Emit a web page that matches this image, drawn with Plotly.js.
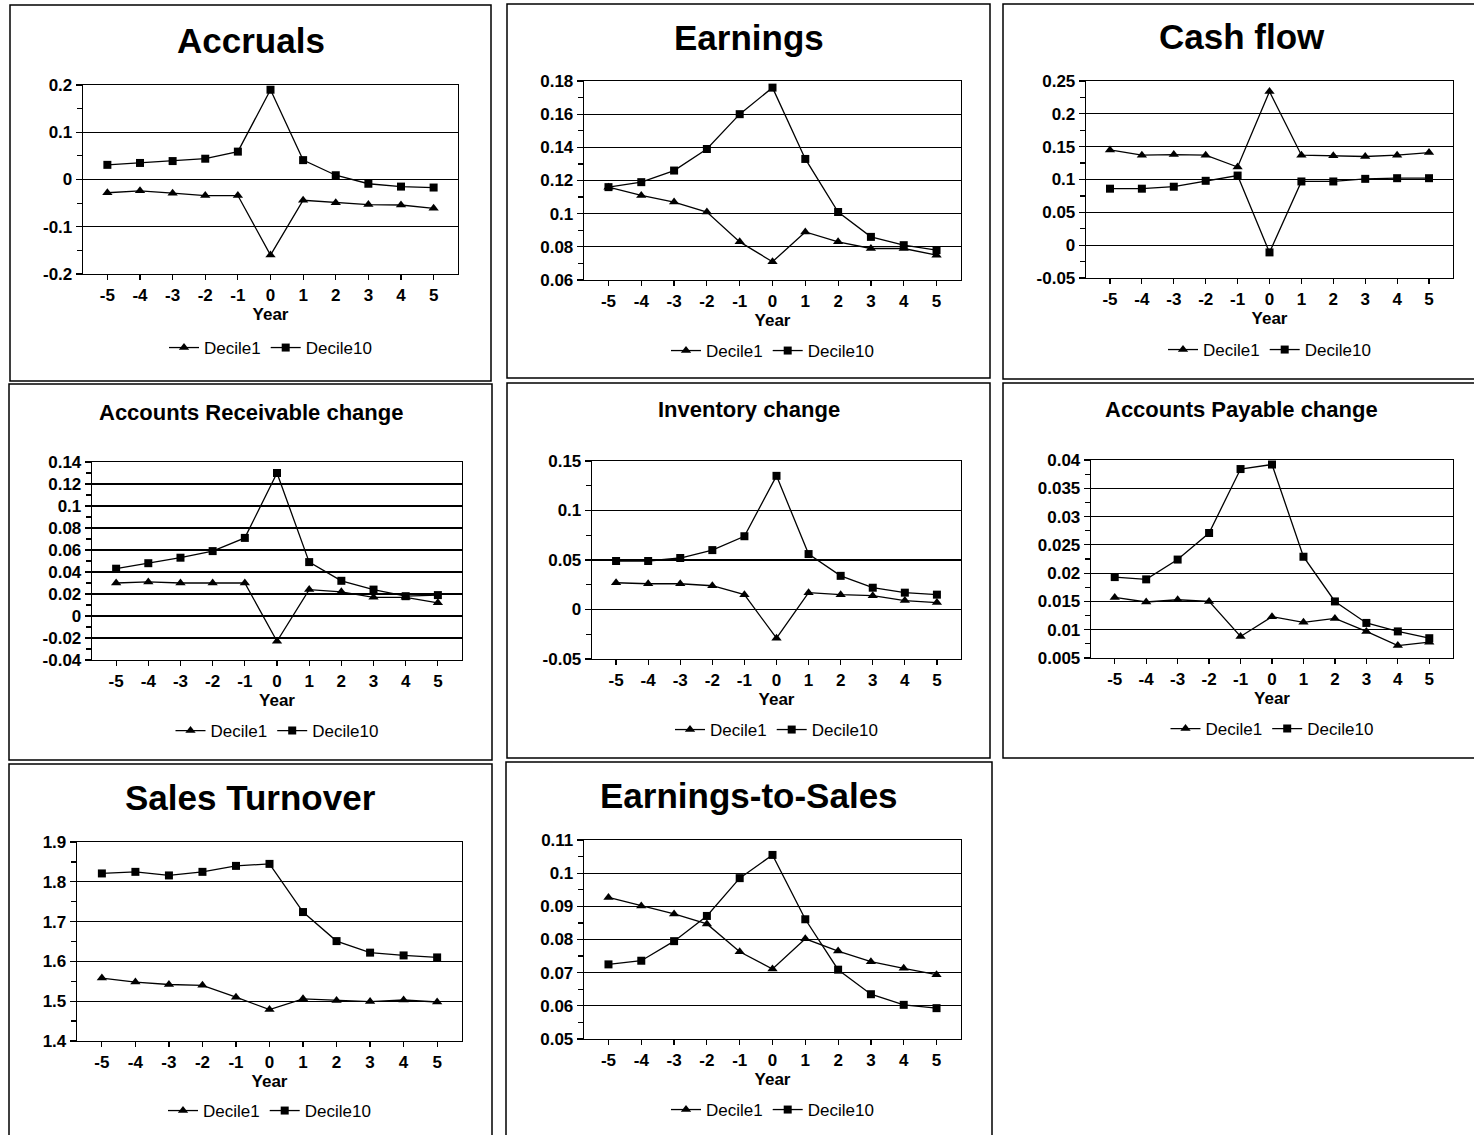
<!DOCTYPE html>
<html>
<head>
<meta charset="utf-8">
<script src="https://cdn.plot.ly/plotly-3.0.1.min.js"></script>
<style>html,body{margin:0;padding:0;background:#fff;}#chart{width:1474px;height:1135px;}</style>
</head>
<body>
<div id="chart"></div>
<script>
// ---------- DATA ----------
const yearLabels = ['-5','-4','-3','-2','-1','0','1','2','3','4','5'];
const seriesNames = ['Decile1', 'Decile10'];

const panelTitles = ['Accruals', 'Earnings', 'Cash flow', 'Accounts Receivable change',
  'Inventory change', 'Accounts Payable change', 'Sales Turnover', 'Earnings-to-Sales'];

const accrualsD1  = [-0.028, -0.024, -0.029, -0.034, -0.034, -0.160, -0.044, -0.049, -0.053, -0.054, -0.061];
const accrualsD10 = [0.031, 0.035, 0.039, 0.044, 0.059, 0.190, 0.041, 0.009, -0.009, -0.015, -0.017];
const accrualsTicks = ['-0.2','-0.1','0','0.1','0.2'];

const earningsD1  = [0.116, 0.111, 0.107, 0.101, 0.083, 0.071, 0.089, 0.083, 0.079, 0.079, 0.075];
const earningsD10 = [0.116, 0.119, 0.126, 0.139, 0.160, 0.176, 0.133, 0.101, 0.086, 0.081, 0.078];
const earningsTicks = ['0.06','0.08','0.1','0.12','0.14','0.16','0.18'];

const cashflowD1  = [0.145, 0.137, 0.138, 0.137, 0.119, 0.234, 0.137, 0.136, 0.135, 0.137, 0.141];
const cashflowD10 = [0.086, 0.086, 0.089, 0.098, 0.106, -0.011, 0.097, 0.097, 0.101, 0.102, 0.102];
const cashflowTicks = ['-0.05','0','0.05','0.1','0.15','0.2','0.25'];

const arD1  = [0.030, 0.031, 0.030, 0.030, 0.030, -0.023, 0.024, 0.022, 0.017, 0.017, 0.012];
const arD10 = [0.043, 0.048, 0.053, 0.059, 0.071, 0.130, 0.049, 0.032, 0.024, 0.018, 0.019];
const arTicks = ['-0.04','-0.02','0','0.02','0.04','0.06','0.08','0.1','0.12','0.14'];

const invD1  = [0.027, 0.026, 0.026, 0.024, 0.015, -0.029, 0.017, 0.015, 0.014, 0.009, 0.007];
const invD10 = [0.049, 0.049, 0.052, 0.060, 0.074, 0.135, 0.056, 0.034, 0.022, 0.017, 0.015];
const invTicks = ['-0.05','0','0.05','0.1','0.15'];

const apD1  = [0.0157, 0.0149, 0.0153, 0.0150, 0.0088, 0.0123, 0.0113, 0.0120, 0.0097, 0.0072, 0.0078];
const apD10 = [0.0193, 0.0189, 0.0224, 0.0271, 0.0384, 0.0392, 0.0229, 0.0150, 0.0112, 0.0097, 0.0085];
const apTicks = ['0.005','0.01','0.015','0.02','0.025','0.03','0.035','0.04'];

const salesD1  = [1.558, 1.548, 1.542, 1.540, 1.510, 1.479, 1.506, 1.502, 1.499, 1.503, 1.498];
const salesD10 = [1.821, 1.825, 1.816, 1.825, 1.840, 1.845, 1.724, 1.651, 1.622, 1.615, 1.610];
const salesTicks = ['1.4','1.5','1.6','1.7','1.8','1.9'];

const e2sD1  = [0.0927, 0.0901, 0.0877, 0.0847, 0.0763, 0.0711, 0.0802, 0.0765, 0.0733, 0.0713, 0.0694];
const e2sD10 = [0.0725, 0.0736, 0.0795, 0.0871, 0.0985, 0.1055, 0.0861, 0.0709, 0.0635, 0.0603, 0.0593];
const e2sTicks = ['0.05','0.06','0.07','0.08','0.09','0.1','0.11'];

// ---------- LAYOUT GEOMETRY (pixels) ----------
const W = 1474, H = 1135;
const panels = [
  {d1: accrualsD1, d10: accrualsD10, ticks: accrualsTicks, big: true,
   box: [10, 5, 491, 381], plot: [83, 85, 458, 274], titleY: 40, legendY: 348},
  {d1: earningsD1, d10: earningsD10, ticks: earningsTicks, big: true,
   box: [507, 4, 990, 378], plot: [584, 81, 961, 280], titleY: 38, legendY: 351},
  {d1: cashflowD1, d10: cashflowD10, ticks: cashflowTicks, big: true,
   box: [1003, 4, 1480, 379], plot: [1086, 81, 1453, 278], titleY: 37, legendY: 350},
  {d1: arD1, d10: arD10, ticks: arTicks, big: false,
   box: [9, 384, 492, 760], plot: [92, 462, 462, 660], titleY: 412, legendY: 731},
  {d1: invD1, d10: invD10, ticks: invTicks, big: false,
   box: [507, 383, 990, 758], plot: [592, 461, 961, 659], titleY: 410, legendY: 730},
  {d1: apD1, d10: apD10, ticks: apTicks, big: false,
   box: [1003, 383, 1480, 758], plot: [1091, 460, 1453, 658], titleY: 409, legendY: 729},
  {d1: salesD1, d10: salesD10, ticks: salesTicks, big: true,
   box: [9, 764, 492, 1140], plot: [77, 842, 462, 1041], titleY: 797, legendY: 1111},
  {d1: e2sD1, d10: e2sD10, ticks: e2sTicks, big: true,
   box: [506, 762, 992, 1140], plot: [584, 840, 961, 1039], titleY: 795, legendY: 1110}
];

const FONT = 'Liberation Sans, Arial, Helvetica, sans-serif';
const px = v => v / W;
const py = v => 1 - v / H;

const traces = [];
const layout = {
  width: W, height: H,
  margin: {l: 0, r: 0, t: 0, b: 0},
  paper_bgcolor: '#ffffff', plot_bgcolor: '#ffffff',
  font: {family: FONT, color: '#000'},
  showlegend: true,
  shapes: [], annotations: []
};

panels.forEach((p, i) => {
  const n = i + 1;
  const xa = 'x' + (n === 1 ? '' : n), ya = 'y' + (n === 1 ? '' : n);
  const xk = 'xaxis' + (n === 1 ? '' : n), yk = 'yaxis' + (n === 1 ? '' : n);
  const lg = 'legend' + (n === 1 ? '' : n);
  const tv = p.ticks.map(Number);
  const step = tv[1] - tv[0];

  traces.push({
    type: 'scatter', mode: 'lines+markers', name: seriesNames[0],
    x: yearLabels, y: p.d1, xaxis: xa, yaxis: ya, legend: lg,
    line: {color: '#000', width: 1.3},
    marker: {symbol: 'triangle-up', size: 9, color: '#000'}
  });
  traces.push({
    type: 'scatter', mode: 'lines+markers', name: seriesNames[1],
    x: yearLabels, y: p.d10, xaxis: xa, yaxis: ya, legend: lg,
    line: {color: '#000', width: 1.3},
    marker: {symbol: 'square', size: 8, color: '#000'}
  });

  layout[xk] = {
    domain: [px(p.plot[0]), px(p.plot[2])],
    anchor: ya, type: 'category',
    showline: true, linecolor: '#000', linewidth: 1.3, mirror: true,
    showgrid: false, zeroline: false,
    ticks: 'outside', ticklen: 5, tickcolor: '#000', tickwidth: 1.2,
    tickfont: {family: FONT, size: 17, weight: 'bold', color: '#000'},
    title: {text: 'Year', standoff: 0, font: {family: FONT, size: 17, weight: 'bold', color: '#000'}},
    fixedrange: true
  };
  layout[yk] = {
    domain: [py(p.plot[3]), py(p.plot[1])],
    anchor: xa,
    range: [tv[0], tv[tv.length - 1]],
    tickmode: 'array', tickvals: tv, ticktext: p.ticks,
    showline: true, linecolor: '#000', linewidth: 1.3, mirror: true,
    showgrid: true, gridcolor: '#000', gridwidth: 1.2, zeroline: false,
    ticks: 'outside', ticklen: 6, tickcolor: '#000', tickwidth: 1.2,
    minor: {tick0: tv[0], dtick: step / 2, ticks: 'outside', ticklen: 5, tickcolor: '#000', showgrid: false},
    tickfont: {family: FONT, size: 17, weight: 'bold', color: '#000'},
    fixedrange: true
  };
  layout[lg] = {
    orientation: 'h', x: px((p.plot[0] + p.plot[2]) / 2), xanchor: 'center',
    y: py(p.legendY), yanchor: 'middle',
    font: {family: FONT, size: 17, color: '#000'},
    bgcolor: 'rgba(0,0,0,0)', itemwidth: 30, itemclick: false, itemdoubleclick: false
  };
  layout.shapes.push({
    type: 'rect', xref: 'paper', yref: 'paper', layer: 'below',
    x0: px(p.box[0]), x1: px(p.box[2]), y0: py(p.box[3]), y1: py(p.box[1]),
    line: {color: '#000', width: 1.5}, fillcolor: 'rgba(0,0,0,0)'
  });
  layout.annotations.push({
    xref: 'paper', yref: 'paper', showarrow: false,
    x: px((p.box[0] + p.box[2]) / 2), y: py(p.titleY), xanchor: 'center', yanchor: 'middle',
    text: panelTitles[i],
    font: {family: FONT, size: p.big ? 35 : 22, weight: 'bold', color: '#000'}
  });
});

Plotly.newPlot('chart', traces, layout, {staticPlot: true, displayModeBar: false});
</script>
</body>
</html>
